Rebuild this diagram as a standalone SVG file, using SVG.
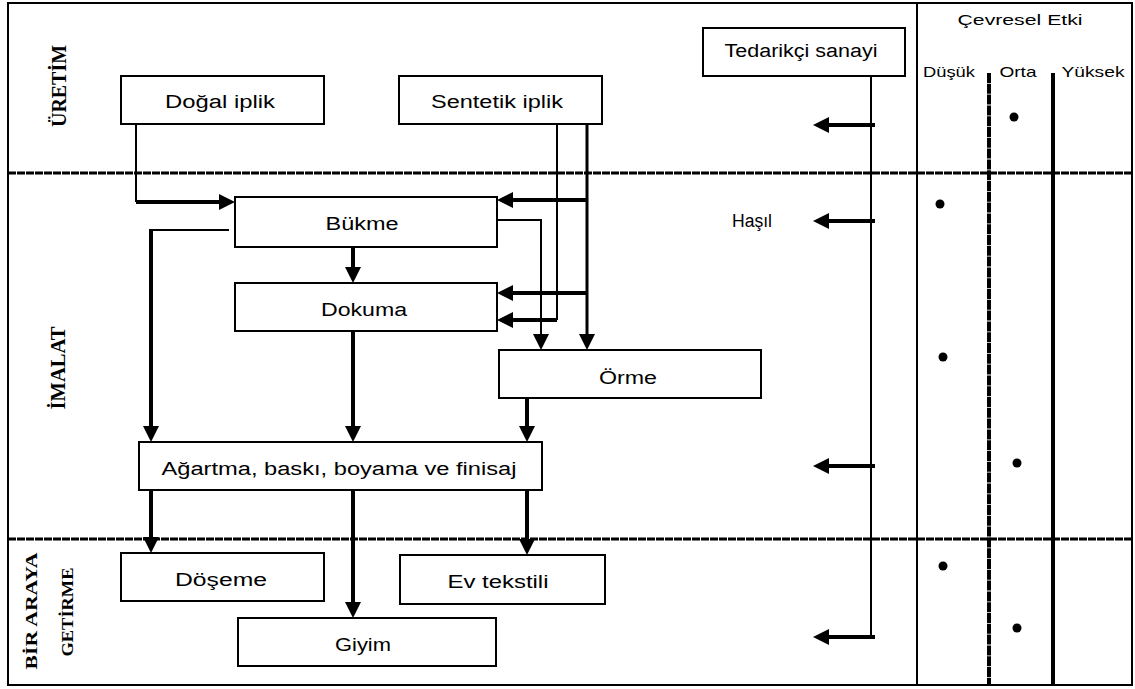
<svg xmlns="http://www.w3.org/2000/svg" width="1135" height="689" viewBox="0 0 1135 689">
<defs>
<style>
.box{fill:#fff;stroke:#000;stroke-width:2}
.lbl{font-family:"Liberation Sans",Arial,sans-serif;font-size:18px;fill:#000;text-anchor:middle}
.sm{font-family:"Liberation Sans",Arial,sans-serif;font-size:15px;fill:#000;text-anchor:middle}
.vl{font-family:"Liberation Serif","Times New Roman",serif;font-weight:bold;fill:#000;text-anchor:middle}
.thin{stroke:#000;stroke-width:2;fill:none}
.thick{stroke:#000;stroke-width:4;fill:none}
.mid{stroke:#000;stroke-width:3;fill:none}
.sep{stroke:#000;stroke-width:3;fill:none;stroke-dasharray:8 1}
.frame{fill:none;stroke:#000;stroke-width:2}
</style>
<marker id="ah" markerUnits="userSpaceOnUse" markerWidth="16" markerHeight="16" viewBox="0 0 16 16" refX="4" refY="8" orient="auto">
<path d="M0,0 L16,8 L0,16 z" fill="#000"/>
</marker>
</defs>
<rect width="1135" height="689" fill="#fff"/>

<g id="frame">
<rect class="frame" x="8" y="3" width="1124" height="682"/>
<line class="frame" x1="917" y1="3" x2="917" y2="685"/>
<line class="sep" x1="8" y1="173" x2="1132" y2="173"/>
<line class="sep" x1="8" y1="539" x2="1132" y2="539"/>
<line stroke="#000" stroke-width="4" stroke-dasharray="10 0.8" x1="989" y1="73" x2="989" y2="685"/>
<line stroke="#000" stroke-width="4" x1="1053" y1="73" x2="1053" y2="685"/>
</g>

<g id="stage-labels">
<text class="vl" font-size="22" textLength="82" lengthAdjust="spacingAndGlyphs" transform="translate(66,86) rotate(-90)">ÜRETİM</text>
<text class="vl" font-size="22" textLength="83" lengthAdjust="spacingAndGlyphs" transform="translate(65,368) rotate(-90)">İMALAT</text>
<text class="vl" font-size="17" textLength="117" lengthAdjust="spacingAndGlyphs" transform="translate(37,611) rotate(-90)">BİR ARAYA</text>
<text class="vl" font-size="17" textLength="89" lengthAdjust="spacingAndGlyphs" transform="translate(73,612) rotate(-90)">GETİRME</text>
</g>

<g id="impact-header">
<text class="sm" x="1020" y="25" textLength="125" lengthAdjust="spacingAndGlyphs">Çevresel Etki</text>
<text class="sm" x="949" y="77" font-size="16" textLength="52" lengthAdjust="spacingAndGlyphs">Düşük</text>
<text class="sm" x="1018" y="77" font-size="16" textLength="37" lengthAdjust="spacingAndGlyphs">Orta</text>
<text class="sm" x="1093" y="77" font-size="16" textLength="63" lengthAdjust="spacingAndGlyphs">Yüksek</text>
</g>

<g id="impact-dots" fill="#000">
<circle cx="1014" cy="117" r="4.5"/>
<circle cx="940" cy="204" r="4.5"/>
<circle cx="943" cy="357" r="4.5"/>
<circle cx="1017" cy="463" r="4.5"/>
<circle cx="943" cy="566" r="4.5"/>
<circle cx="1017" cy="628" r="4.5"/>
</g>

<g id="connectors">
<path class="thin" d="M136,124 V202"/>
<path class="thick" d="M136,202 H223" marker-end="url(#ah)"/>
<path class="mid" d="M587,124 V338" marker-end="url(#ah)"/>
<path class="thick" d="M587,200 H509" marker-end="url(#ah)"/>
<path class="thick" d="M587,293 H509" marker-end="url(#ah)"/>
<path class="thin" d="M557,124 V320"/>
<path class="thick" d="M557,320 H509" marker-end="url(#ah)"/>
<path class="thin" d="M497,220 H541 V338" marker-end="url(#ah)"/>
<path class="thin" d="M229,230 H151"/>
<path class="thick" d="M151,229 V430" marker-end="url(#ah)"/>
<path class="thick" d="M353,247 V271" marker-end="url(#ah)"/>
<path class="thick" d="M353,331 V430" marker-end="url(#ah)"/>
<path class="thick" d="M527,398 V430" marker-end="url(#ah)"/>
<path class="thick" d="M151,490 V541" marker-end="url(#ah)"/>
<path class="thick" d="M353,490 V606" marker-end="url(#ah)"/>
<path class="thick" d="M527,490 V543" marker-end="url(#ah)"/>
<path class="thin" d="M871,76 V637"/>
<path class="thick" d="M875,125 H825" marker-end="url(#ah)"/>
<path class="thick" d="M875,221 H825" marker-end="url(#ah)"/>
<path class="thick" d="M875,466 H825" marker-end="url(#ah)"/>
<path class="thick" d="M875,637 H825" marker-end="url(#ah)"/>
</g>

<g id="dogal-iplik">
<rect class="box" x="121" y="76" width="203" height="48"/>
<text class="lbl" x="220" y="108" textLength="110" lengthAdjust="spacingAndGlyphs">Doğal iplik</text>
</g>
<g id="sentetik-iplik">
<rect class="box" x="399" y="76" width="203" height="48"/>
<text class="lbl" x="497" y="108" textLength="132" lengthAdjust="spacingAndGlyphs">Sentetik iplik</text>
</g>
<g id="tedarikci-sanayi">
<rect class="box" x="703" y="28" width="202" height="48"/>
<text class="lbl" x="801" y="57" textLength="153" lengthAdjust="spacingAndGlyphs">Tedarikçi sanayi</text>
</g>
<g id="hasil">
<text class="lbl" x="752" y="227" textLength="40" lengthAdjust="spacingAndGlyphs">Haşıl</text>
</g>
<g id="bukme">
<rect class="box" x="235" y="197" width="262" height="50"/>
<text class="lbl" x="362" y="230" textLength="73" lengthAdjust="spacingAndGlyphs">Bükme</text>
</g>
<g id="dokuma">
<rect class="box" x="235" y="283" width="262" height="48"/>
<text class="lbl" x="364" y="316" textLength="86" lengthAdjust="spacingAndGlyphs">Dokuma</text>
</g>
<g id="orme">
<rect class="box" x="499" y="350" width="262" height="48"/>
<text class="lbl" x="628" y="384" textLength="58" lengthAdjust="spacingAndGlyphs">Örme</text>
</g>
<g id="agartma">
<rect class="box" x="139" y="442" width="403" height="48"/>
<text class="lbl" x="339" y="475" textLength="355" lengthAdjust="spacingAndGlyphs">Ağartma, baskı, boyama ve finisaj</text>
</g>
<g id="doseme">
<rect class="box" x="121" y="553" width="203" height="48"/>
<text class="lbl" x="221" y="586" textLength="92" lengthAdjust="spacingAndGlyphs">Döşeme</text>
</g>
<g id="ev-tekstili">
<rect class="box" x="400" y="555" width="205" height="49"/>
<text class="lbl" x="498" y="588" textLength="101" lengthAdjust="spacingAndGlyphs">Ev tekstili</text>
</g>
<g id="giyim">
<rect class="box" x="238" y="618" width="258" height="48"/>
<text class="lbl" x="363" y="651" textLength="56" lengthAdjust="spacingAndGlyphs">Giyim</text>
</g>
</svg>
